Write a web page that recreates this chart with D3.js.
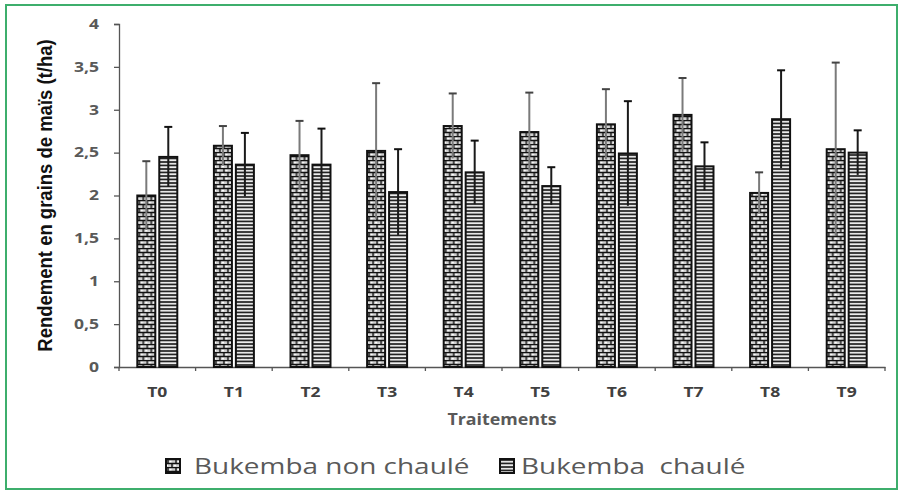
<!DOCTYPE html>
<html>
<head>
<meta charset="utf-8">
<script src="https://cdn.jsdelivr.net/npm/d3@7"></script>
<style>
  body { margin: 0; background: #fff; }
  svg { display: block; }
</style>
</head>
<body>
<div id="chart"></div>
<script>
const categories = ['T0', 'T1', 'T2', 'T3', 'T4', 'T5', 'T6', 'T7', 'T8', 'T9'];
const seriesNames = ['Bukemba non chaulé', 'Bukemba  chaulé'];
const nonChaule = [2.0, 2.58, 2.47, 2.52, 2.81, 2.74, 2.83, 2.94, 2.03, 2.54];
const nonChauleErr = [0.4, 0.23, 0.4, 0.79, 0.38, 0.46, 0.41, 0.43, 0.24, 1.01];
const chaule = [2.45, 2.36, 2.36, 2.04, 2.27, 2.11, 2.49, 2.34, 2.89, 2.5];
const chauleErr = [0.35, 0.37, 0.42, 0.5, 0.37, 0.22, 0.61, 0.28, 0.57, 0.26];
const yTicks = [0, 0.5, 1, 1.5, 2, 2.5, 3, 3.5, 4];

const width = 899, height = 499;
const margin = { top: 24, right: 14, bottom: 132, left: 119 };
const stretch = 1.3; // the original picture is widened, text included

const svg = d3.select('#chart').append('svg')
  .attr('width', width)
  .attr('height', height);

// patterns
const defs = svg.append('defs');
const brick = defs.append('pattern')
  .attr('id', 'brick')
  .attr('patternUnits', 'userSpaceOnUse')
  .attr('width', 8).attr('height', 8);
brick.append('rect').attr('width', 8).attr('height', 8).attr('fill', '#cfcfcf');
brick.append('path')
  .attr('d', 'M0,0.5H8M0,4.5H8M2,0V4M6,4V8')
  .attr('stroke', '#111').attr('stroke-width', 1.4);
brick.append('rect').attr('x', 3.5).attr('y', 1.8).attr('width', 2).attr('height', 1.5).attr('fill', '#fff');
brick.append('rect').attr('x', 0).attr('y', 5.8).attr('width', 2).attr('height', 1.5).attr('fill', '#fff');

const hlines = defs.append('pattern')
  .attr('id', 'hlines')
  .attr('patternUnits', 'userSpaceOnUse')
  .attr('width', 4).attr('height', 3.5);
hlines.append('rect').attr('width', 4).attr('height', 3.5).attr('fill', '#eeeeee');
hlines.append('path').attr('d', 'M0,1H4').attr('stroke', '#111').attr('stroke-width', 1.6);

// frame
svg.append('rect')
  .attr('x', 6).attr('y', 5)
  .attr('width', 891).attr('height', 484)
  .attr('fill', 'none')
  .attr('stroke', '#3dae6c')
  .attr('stroke-width', 2);

const x0 = d3.scaleBand()
  .domain(categories)
  .range([margin.left, width - margin.right])
  .paddingInner(0.478)
  .paddingOuter(0.239);

const x1 = d3.scaleBand()
  .domain([0, 1])
  .range([0, x0.bandwidth()])
  .paddingInner(0.18);

const y = d3.scaleLinear()
  .domain([0, 4])
  .range([height - margin.bottom, margin.top]);

const fmt = d => String(d).replace('.', ',');

// y axis
const yAxis = svg.append('g')
  .attr('transform', `translate(${margin.left},0)`)
  .call(d3.axisLeft(y).tickValues(yTicks).tickFormat(fmt).tickSizeOuter(0).tickSize(5));
yAxis.select('.domain').attr('stroke', '#555').attr('stroke-width', 1.3);
yAxis.selectAll('.tick line').attr('stroke', '#555').attr('stroke-width', 1.3);
yAxis.selectAll('.tick text')
  .attr('x', -20 / stretch)
  .attr('transform', `scale(${stretch},1)`)
  .attr('fill', '#595959')
  .attr('font-family', 'Open Sans, sans-serif')
  .attr('font-weight', 'bold')
  .attr('font-size', '13.5px');

// x axis
const xAxis = svg.append('g')
  .attr('transform', `translate(0,${height - margin.bottom})`)
  .call(d3.axisBottom(x0).tickSize(0).tickSizeOuter(0));
xAxis.select('.domain').attr('stroke', '#555').attr('stroke-width', 1.3);
xAxis.selectAll('.tick text')
  .attr('y', 30)
  .attr('dy', 0)
  .attr('transform', `scale(${stretch},1)`)
  .attr('fill', '#404040')
  .attr('font-family', 'Open Sans, sans-serif')
  .attr('font-weight', 'bold')
  .attr('font-size', '13.5px');
xAxis.selectAll('.sep')
  .data(d3.range(categories.length + 1))
  .join('line')
  .attr('class', 'sep')
  .attr('x1', i => margin.left + i * x0.step())
  .attr('x2', i => margin.left + i * x0.step())
  .attr('y1', 0).attr('y2', 4)
  .attr('stroke', '#555').attr('stroke-width', 1.3);

// bars
const rows = categories.map((c, i) => [
  { cat: c, s: 0, v: nonChaule[i], e: nonChauleErr[i] },
  { cat: c, s: 1, v: chaule[i], e: chauleErr[i] }
]);

const groups = svg.append('g')
  .selectAll('g')
  .data(rows)
  .join('g')
  .attr('transform', d => `translate(${x0(d[0].cat)},0)`);

groups.selectAll('rect')
  .data(d => d)
  .join('rect')
  .attr('x', d => x1(d.s))
  .attr('y', d => y(d.v))
  .attr('width', x1.bandwidth())
  .attr('height', d => y(0) - y(d.v))
  .attr('fill', d => d.s === 0 ? 'url(#brick)' : 'url(#hlines)')
  .attr('stroke', '#111')
  .attr('stroke-width', 2);

// error bars
const err = groups.selectAll('g.err')
  .data(d => d)
  .join('g')
  .attr('class', 'err')
  .attr('stroke', d => d.s === 0 ? '#7a7a7a' : '#1a1a1a')
  .attr('stroke-width', 2);
err.append('line')
  .attr('x1', d => x1(d.s) + x1.bandwidth() / 2)
  .attr('x2', d => x1(d.s) + x1.bandwidth() / 2)
  .attr('y1', d => y(d.v - d.e))
  .attr('y2', d => y(d.v + d.e));
err.append('line')
  .attr('x1', d => x1(d.s) + x1.bandwidth() / 2 - 4)
  .attr('x2', d => x1(d.s) + x1.bandwidth() / 2 + 4)
  .attr('y1', d => y(d.v + d.e))
  .attr('y2', d => y(d.v + d.e))
  .attr('stroke', d => d.s === 0 ? '#444' : '#111');

// axis titles
svg.append('text')
  .attr('transform', `translate(${(margin.left + width - margin.right) / 2},425) scale(1.15,1)`)
  .attr('text-anchor', 'middle')
  .attr('font-family', 'Open Sans, sans-serif')
  .attr('font-weight', 'bold')
  .attr('font-size', '15.5px')
  .attr('fill', '#595959')
  .text('Traitements');

svg.append('text')
  .attr('transform', `translate(52,${(margin.top + height - margin.bottom) / 2}) scale(1.12,1) rotate(-90)`)
  .attr('text-anchor', 'middle')
  .attr('font-family', 'Liberation Sans, Arial, sans-serif')
  .attr('font-weight', 'bold')
  .attr('font-size', '18.5px')
  .attr('fill', '#111')
  .text('Rendement en grains de maïs (t/ha)');

// legend
const legendX = [166, 500];
const legend = svg.append('g');
seriesNames.forEach((name, i) => {
  const g = legend.append('g').attr('transform', `translate(${legendX[i]},459)`);
  g.append('rect')
    .attr('width', 14).attr('height', 14)
    .attr('fill', i === 0 ? 'url(#brick)' : 'url(#hlines)')
    .attr('stroke', '#111').attr('stroke-width', 2);
  g.append('text')
    .attr('transform', `translate(${i === 0 ? 28 : 21},15) scale(${stretch},1)`)
    .attr('font-family', 'Open Sans, sans-serif')
    .attr('font-size', '21.5px')
    .attr('fill', '#595959')
    .attr('xml:space', 'preserve')
    .style('white-space', 'pre')
    .text(name);
});
</script>
</body>
</html>
